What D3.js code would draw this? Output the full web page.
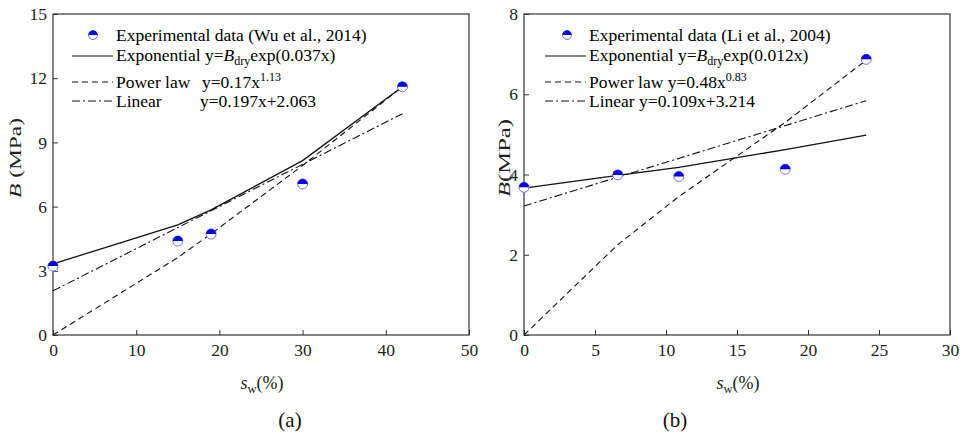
<!DOCTYPE html>
<html>
<head>
<meta charset="utf-8">
<script src="https://cdn.jsdelivr.net/npm/d3@7"></script>
<style>
  body { margin: 0; background: #fff; }
  svg, svg text { font-family: "Liberation Serif", "Times New Roman", "DejaVu Serif", serif; }
</style>
</head>
<body>
<svg id="chart" width="965" height="437"></svg>
<script>
// panel (a) - Wu et al., 2014
var xA = [0, 15, 19, 30, 42];
var expA = [3.22, 4.39, 4.72, 7.06, 11.6];        // experimental
var fitExpA = [3.32, 5.15, 5.85, 8.15, 11.6];      // exponential fit
var fitPowA = [0, 3.62, 4.73, 7.92, 11.6];         // power law fit
var fitLinX_A = [0, 42];
var fitLinA = [2.063, 10.34];                      // linear fit
var xTicksA = [0, 10, 20, 30, 40, 50];
var yTicksA = [0, 3, 6, 9, 12, 15];

// panel (b) - Li et al., 2004
var xB = [0, 6.6, 10.9, 18.4, 24.1];
var expB = [3.68, 3.99, 3.95, 4.13, 6.87];
var fitExpB = [3.66, 3.98, 4.18, 4.62, 4.98];
var fitPowB = [0, 2.25, 3.45, 5.3, 6.85];
var fitLinX_B = [0, 24.1];
var fitLinB = [3.214, 5.84];
var xTicksB = [0, 5, 10, 15, 20, 25, 30];
var yTicksB = [0, 2, 4, 6, 8];

var svg = d3.select("#chart");

var panels = [
  { left: 53, right: 469, xMax: 50, yMax: 15, xs: xA, pts: expA, fe: fitExpA, fp: fitPowA,
    lx: fitLinX_A, ly: fitLinA, xt: xTicksA, yt: yTicksA, tag: "(a)", tagX: 290,
    ylab: "\u00a0(MPa)", ylabX: 21, ylen: 80, leg: {
      ref: "Experimental data (Wu et al., 2014)", k: "0.037", a: "0.17", p: "1.13",
      lin: "y=0.197x+2.063", powGap: true, markX: 93, lineX0: 72, textX: 116 } },
  { left: 524, right: 950, xMax: 30, yMax: 8, xs: xB, pts: expB, fe: fitExpB, fp: fitPowB,
    lx: fitLinX_B, ly: fitLinB, xt: xTicksB, yt: yTicksB, tag: "(b)", tagX: 675,
    ylab: "(MPa)", ylabX: 510, ylen: 78, leg: {
      ref: "Experimental data (Li et al., 2004)", k: "0.012", a: "0.48", p: "0.83",
      lin: "y=0.109x+3.214", powGap: false, markX: 567, lineX0: 545, textX: 589 } }
];

var plotTop = 14, plotBottom = 335;
var serif = "Liberation Serif";

function marker(g, cx, cy, r) {
  var m = g.append("g").attr("transform", "translate(" + cx + "," + cy + ")");
  m.append("circle").attr("r", r).attr("fill", "#fff").attr("stroke", "#7070ff").attr("stroke-width", 1);
  m.append("path")
    .attr("d", "M" + (-r) + ",0 A" + r + "," + r + " 0 0 1 " + r + ",0 Z")
    .attr("fill", "#0000f0");
}

panels.forEach(function(p) {
  var x = d3.scaleLinear().domain([0, p.xMax]).range([p.left, p.right]);
  var y = d3.scaleLinear().domain([0, p.yMax]).range([plotBottom, plotTop]);
  var g = svg.append("g").attr("font-family", serif);

  // axes, ticks point inward
  var ax = g.append("g").attr("transform", "translate(0," + plotBottom + ")")
    .call(d3.axisBottom(x).tickValues(p.xt).tickSize(-5).tickSizeOuter(0).tickPadding(9));
  var ay = g.append("g").attr("transform", "translate(" + p.left + ",0)")
    .call(d3.axisLeft(y).tickValues(p.yt).tickSize(-5).tickSizeOuter(0).tickPadding(6));
  [ax, ay].forEach(function(a) {
    a.attr("font-family", serif).attr("font-size", 17.5);
    a.selectAll("text").attr("fill", "#222");
    a.selectAll("line").attr("stroke", "#333");
    a.select(".domain").remove();
  });

  g.append("rect").attr("x", p.left).attr("y", plotTop)
    .attr("width", p.right - p.left).attr("height", plotBottom - plotTop)
    .attr("fill", "none").attr("stroke", "#333").attr("stroke-width", 1.2);

  var line = d3.line().x(function(d) { return x(d[0]); }).y(function(d) { return y(d[1]); });

  g.append("path").datum(d3.zip(p.lx, p.ly)).attr("d", line)
    .attr("fill", "none").attr("stroke", "#111").attr("stroke-width", 1.1).attr("stroke-dasharray", "8,3,2,3");
  g.append("path").datum(d3.zip(p.xs, p.fp)).attr("d", line)
    .attr("fill", "none").attr("stroke", "#111").attr("stroke-width", 1.1).attr("stroke-dasharray", "6,4");
  g.append("path").datum(d3.zip(p.xs, p.fe)).attr("d", line)
    .attr("fill", "none").attr("stroke", "#111").attr("stroke-width", 1.3);

  p.xs.forEach(function(v, i) { marker(g, x(v), y(p.pts[i]), 5); });

  // legend
  var L = p.leg, fs = 17.5;
  marker(g, L.markX, 35, 4.5);
  g.append("text").attr("x", L.textX).attr("y", 41).attr("font-size", fs).text(L.ref);

  g.append("line").attr("x1", L.lineX0).attr("x2", L.textX - 3).attr("y1", 56).attr("y2", 56)
    .attr("stroke", "#111").attr("stroke-width", 1.2);
  var t2 = g.append("text").attr("x", L.textX).attr("y", 61).attr("font-size", fs);
  t2.append("tspan").text("Exponential y=");
  t2.append("tspan").attr("font-style", "italic").text("B");
  t2.append("tspan").attr("font-size", 12).attr("dy", 4).text("dry");
  t2.append("tspan").attr("dy", -4).text("exp(" + L.k + "x)");

  g.append("line").attr("x1", L.lineX0).attr("x2", L.textX - 3).attr("y1", 82).attr("y2", 82)
    .attr("stroke", "#111").attr("stroke-width", 1.1).attr("stroke-dasharray", "6,4");
  var t3 = g.append("text").attr("x", L.textX).attr("y", 88).attr("font-size", fs);
  t3.append("tspan").text("Power law");
  t3.append("tspan").attr("x", L.powGap ? L.textX + 86 : null).text((L.powGap ? "" : " ") + "y=" + L.a + "x");
  t3.append("tspan").attr("font-size", 12).attr("dy", -7).text(L.p);

  g.append("line").attr("x1", L.lineX0).attr("x2", L.textX - 3).attr("y1", 101).attr("y2", 101)
    .attr("stroke", "#111").attr("stroke-width", 1.1).attr("stroke-dasharray", "8,3,2,3");
  var t4 = g.append("text").attr("x", L.textX).attr("y", 107).attr("font-size", fs);
  t4.append("tspan").text("Linear");
  t4.append("tspan").attr("x", L.powGap ? L.textX + 84 : null).text((L.powGap ? "" : " ") + L.lin);

  // axis titles
  var xl = g.append("text").attr("x", (p.left + p.right) / 2 + 1).attr("y", 389)
    .attr("text-anchor", "middle").attr("font-size", 18).attr("fill", "#222");
  xl.append("tspan").attr("font-style", "italic").text("s");
  xl.append("tspan").attr("font-size", 12.5).attr("dy", 4).text("w");
  xl.append("tspan").attr("dy", -4).text("(%)");

  var yl = g.append("text").attr("transform", "translate(" + p.ylabX + ",158) rotate(-90)")
    .attr("text-anchor", "middle").attr("font-size", 17).attr("fill", "#222")
    .attr("textLength", p.ylen).attr("lengthAdjust", "spacingAndGlyphs");
  yl.append("tspan").attr("font-style", "italic").text("B");
  yl.append("tspan").text(p.ylab);

  g.append("text").attr("x", p.tagX).attr("y", 427).attr("text-anchor", "middle")
    .attr("font-size", 21).attr("fill", "#111").text(p.tag);
});
</script>
</body>
</html>
